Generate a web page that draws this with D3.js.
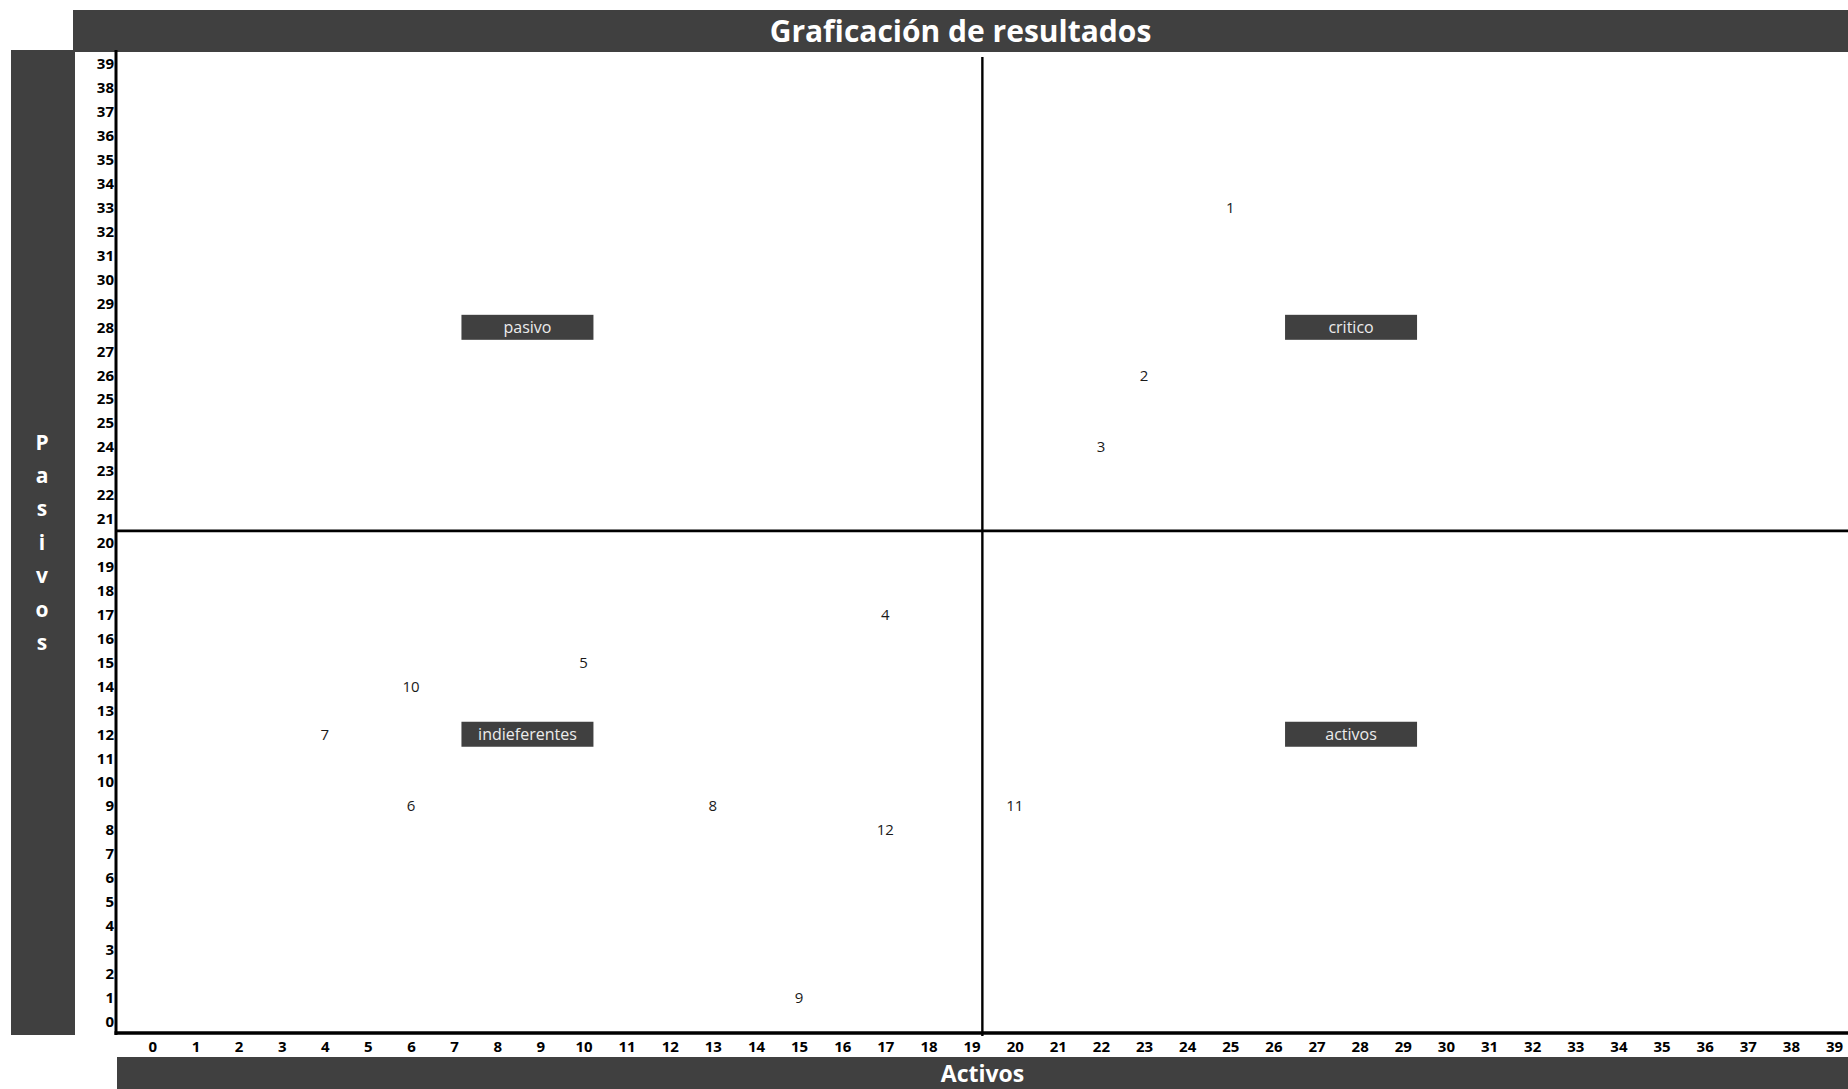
<!DOCTYPE html>
<html><head><meta charset="utf-8">
<script src="https://cdn.jsdelivr.net/npm/d3@7"></script>
<style>
body{margin:0;background:#fff;}
svg{display:block;font-family:"Open Sans",Lato,sans-serif;}
</style>
</head><body>
<svg id="c" width="1848" height="1089"></svg>
<script>
// ---------- data ----------
const chartTitle = "Graficación de resultados";
const xAxisTitle = "Activos";
const yAxisTitle = "Pasivos";
const xTickLabels = [0,1,2,3,4,5,6,7,8,9,10,11,12,13,14,15,16,17,18,19,20,21,22,23,24,25,26,27,28,29,30,31,32,33,34,35,36,37,38,39];
const yTickLabels = [39,38,37,36,35,34,33,32,31,30,29,28,27,26,25,25,24,23,22,21,20,19,18,17,16,15,14,13,12,11,10,9,8,7,6,5,4,3,2,1,0];
const pointIds      = [1, 2, 3, 4, 5, 6, 7, 8, 9, 10, 11, 12];
const pointActivos  = [25,23,22,17,10, 6, 4,13,15, 6, 20, 17];
const pointPasivos  = [33,26,24,17,15, 9,12, 9, 1,14,  9,  8];
const quadrantNames    = ["pasivo","critico","indieferentes","activos"];
const quadrantActivos  = [8.7, 27.8, 8.7, 27.8];
const quadrantPasivos  = [28, 28, 12, 12];
const dividerActivos = 19.25;
const dividerPasivos = 20.5;

// ---------- layout ----------
const W = 1848, H = 1089;
const dark = "#404040";
const plot = {left:116, right:1848, top:50, bottom:1033};
const svg = d3.select("#c");

const x = d3.scaleLinear().domain([0,39]).range([152.3,1834]);
const yRow = d3.scalePoint().domain(d3.range(yTickLabels.length)).range([64,1021.5]);
const yIdx = d3.scaleLinear().domain([0,yTickLabels.length-1]).range([64,1021.5]);
function rowOf(v){
  if (Number.isInteger(v)) return yTickLabels.indexOf(v);
  const lo = Math.floor(v), hi = Math.ceil(v);
  const iLo = yTickLabels.indexOf(lo), iHi = yTickLabels.indexOf(hi);
  return iLo + (iHi - iLo) * (v - lo);
}
const y = v => yIdx(rowOf(v));

// title bar
svg.append("rect").attr("x",73).attr("y",10).attr("width",W-73).attr("height",42).attr("fill",dark);
svg.append("text").attr("x",(73+W)/2).attr("y",31).attr("dy","0.36em")
  .attr("text-anchor","middle").attr("fill","#fff").attr("font-weight","bold").attr("font-size",30)
  .text(chartTitle);

// left bar
svg.append("rect").attr("x",11).attr("y",50).attr("width",64).attr("height",985).attr("fill",dark);
const letters = yAxisTitle.split("");
svg.append("g").selectAll("text").data(letters).join("text")
  .attr("x",42).attr("y",(d,i)=>442+i*33.4).attr("dy","0.36em")
  .attr("text-anchor","middle").attr("fill","#fff").attr("font-weight","bold").attr("font-size",21)
  .text(d=>d);

// bottom bar
svg.append("rect").attr("x",117).attr("y",1057).attr("width",W-117).attr("height",H-1057).attr("fill",dark);
svg.append("text").attr("x",(117+W)/2).attr("y",1074).attr("dy","0.36em")
  .attr("text-anchor","middle").attr("fill","#fff").attr("font-weight","bold").attr("font-size",23)
  .text(xAxisTitle);

// x axis ticks
const gx = svg.append("g").attr("transform",`translate(0,${1047})`)
  .call(d3.axisBottom(x).tickValues(xTickLabels).tickSize(0).tickPadding(0).tickFormat(d=>d));
gx.select(".domain").remove();
gx.selectAll("text").attr("font-family","'Open Sans',Lato,sans-serif").attr("font-size",15)
  .attr("font-weight","bold").attr("fill","#000").attr("dy","0.36em").attr("y",0);

// y axis ticks
const gy = svg.append("g").attr("transform",`translate(${114},0)`)
  .call(d3.axisLeft(yRow).tickSize(0).tickPadding(0).tickFormat(i=>yTickLabels[i]));
gy.select(".domain").remove();
gy.selectAll("text").attr("font-family","'Open Sans',Lato,sans-serif").attr("font-size",15)
  .attr("font-weight","bold").attr("fill","#000");

// quadrant dividers
svg.append("line").attr("x1",plot.left).attr("x2",plot.right)
  .attr("y1",y(dividerPasivos)).attr("y2",y(dividerPasivos))
  .attr("stroke","#000").attr("stroke-width",2.8);
svg.append("line").attr("x1",x(dividerActivos)).attr("x2",x(dividerActivos))
  .attr("y1",57).attr("y2",1036)
  .attr("stroke","#000").attr("stroke-width",2.4);

// axis lines
svg.append("line").attr("x1",116).attr("x2",116).attr("y1",50).attr("y2",1035)
  .attr("stroke","#000").attr("stroke-width",3);
svg.append("line").attr("x1",114.5).attr("x2",W).attr("y1",1033).attr("y2",1033)
  .attr("stroke","#000").attr("stroke-width",3.5);

// quadrant labels
const qd = quadrantNames.map((n,i)=>({n, a:quadrantActivos[i], p:quadrantPasivos[i]}));
const qg = svg.append("g").selectAll("g").data(qd).join("g")
  .attr("transform",d=>`translate(${x(d.a)},${y(d.p)})`);
qg.append("rect").attr("x",-66).attr("y",-12.5).attr("width",132).attr("height",25).attr("fill",dark);
qg.append("text").attr("text-anchor","middle").attr("dy","0.36em").attr("fill","#ececec")
  .attr("font-size",16).text(d=>d.n);

// points (labels)
const pd = pointIds.map((id,i)=>({id, a:pointActivos[i], p:pointPasivos[i]}));
svg.append("g").selectAll("text").data(pd).join("text")
  .attr("x",d=>x(d.a)).attr("y",d=>y(d.p)).attr("dy","0.36em")
  .attr("text-anchor","middle").attr("fill","#1a1a1a").attr("font-size",15)
  .text(d=>d.id);
</script>
</body></html>
